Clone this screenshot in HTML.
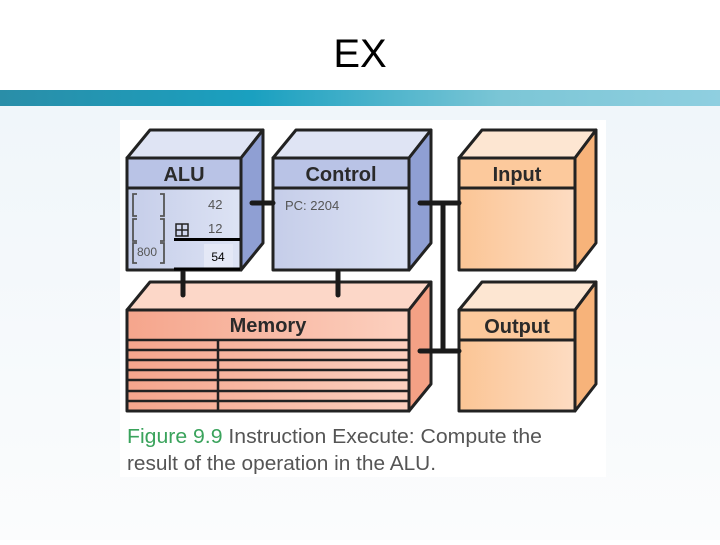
<!DOCTYPE html>
<html><head><style>
body{margin:0;width:720px;height:540px;overflow:hidden;background:#fff;font-family:"Liberation Sans",sans-serif}
</style></head><body>
<svg width="720" height="540" xmlns="http://www.w3.org/2000/svg" font-family="Liberation Sans, sans-serif">
<defs>
<linearGradient id="band" x1="0" x2="1"><stop offset="0" stop-color="#2a8ea8"/><stop offset="0.35" stop-color="#1aa0c0"/><stop offset="0.7" stop-color="#7cc6d6"/><stop offset="1" stop-color="#8fcfe0"/></linearGradient>
<linearGradient id="bg" x1="0" y1="0" x2="0" y2="1"><stop offset="0" stop-color="#f0f6fa"/><stop offset="1" stop-color="#fbfcfd"/></linearGradient>
<linearGradient id="blue" x1="0" x2="1"><stop offset="0" stop-color="#c5cde9"/><stop offset="1" stop-color="#dde3f4"/></linearGradient>
<linearGradient id="mem" x1="0" x2="1"><stop offset="0" stop-color="#f5a58c"/><stop offset="1" stop-color="#fcd0bf"/></linearGradient>
<linearGradient id="org" x1="0" x2="1"><stop offset="0" stop-color="#fbc595"/><stop offset="1" stop-color="#fddcc2"/></linearGradient>
</defs>
<rect x="0" y="106" width="720" height="434" fill="url(#bg)"/>
<rect x="0" y="90" width="720" height="16" fill="url(#band)"/>
<text x="360" y="67" font-size="40" text-anchor="middle" fill="#000">EX</text>
<rect x="120" y="120" width="486" height="357" fill="#fff"/>
<g stroke="#222" stroke-width="3" stroke-linejoin="round">
<polygon points="127,158 150,130 263,130 241,158" fill="#dfe4f4"/>
<polygon points="241,158 263,130 263,243 241,270" fill="#8f9fd3"/>
<rect x="127" y="158" width="114" height="112" fill="url(#blue)"/>
<rect x="127" y="158" width="114" height="30" fill="#b9c3e6"/>
<polygon points="273,158 296,130 431,130 409,158" fill="#dfe4f4"/>
<polygon points="409,158 431,130 431,243 409,270" fill="#8f9fd3"/>
<rect x="273" y="158" width="136" height="112" fill="url(#blue)"/>
<rect x="273" y="158" width="136" height="30" fill="#b9c3e6"/>
<polygon points="459,158 482,130 596,130 575,158" fill="#fde6d2"/>
<polygon points="575,158 596,130 596,243 575,270" fill="#f7b37a"/>
<rect x="459" y="158" width="116" height="112" fill="url(#org)"/>
<rect x="459" y="158" width="116" height="30" fill="#fcc99c"/>
<polygon points="127,310 150,282 431,282 409,310" fill="#fcd7c8"/>
<polygon points="409,310 431,282 431,384 409,411" fill="#f4a185"/>
<rect x="127" y="310" width="282" height="101" fill="url(#mem)"/>
<polygon points="459,310 482,282 596,282 575,310" fill="#fde6d2"/>
<polygon points="575,310 596,282 596,384 575,411" fill="#f7b37a"/>
<rect x="459" y="310" width="116" height="101" fill="url(#org)"/>
<rect x="459" y="310" width="116" height="30" fill="#fcc99c"/>
</g>
<g stroke="#222" stroke-width="2.5">
<line x1="127" y1="340" x2="409" y2="340"/>
<line x1="127" y1="350" x2="409" y2="350"/>
<line x1="127" y1="360" x2="409" y2="360"/>
<line x1="127" y1="370" x2="409" y2="370"/>
<line x1="127" y1="380" x2="409" y2="380"/>
<line x1="127" y1="391" x2="409" y2="391"/>
<line x1="127" y1="401" x2="409" y2="401"/>
<line x1="218" y1="340" x2="218" y2="411"/>
</g>
<g stroke="#1a1a1a" stroke-width="5" stroke-linecap="round">
<line x1="252" y1="203" x2="273" y2="203"/>
<line x1="420" y1="203" x2="459" y2="203"/>
<line x1="443" y1="203" x2="443" y2="351"/>
<line x1="420" y1="351" x2="459" y2="351"/>
<line x1="183" y1="272" x2="183" y2="295"/>
<line x1="338" y1="272" x2="338" y2="295"/>
</g>
<g font-weight="bold" font-size="20" fill="#2a2a2a" text-anchor="middle">
<text x="184" y="181">ALU</text>
<text x="341" y="181">Control</text>
<text x="517" y="181">Input</text>
<text x="268" y="332">Memory</text>
<text x="517" y="333">Output</text>
</g>
<g font-size="13" fill="#555">
<text x="285" y="210">PC: 2204</text>
<text x="208" y="209">42</text>
<text x="208" y="233">12</text>
<text x="137" y="256" font-size="12">800</text>
</g>
<g fill="none" stroke="#555" stroke-width="1.8">
<path d="M137,194 h-4 v22 h4 M160,194 h4 v22 h-4"/>
<path d="M137,219 h-4 v22 h4 M160,219 h4 v22 h-4"/>
<path d="M137,243 h-4 v20 h4 M160,243 h4 v20 h-4"/>
</g>
<rect x="176" y="224" width="12" height="12" fill="none" stroke="#222" stroke-width="1.5"/>
<line x1="182" y1="224" x2="182" y2="236" stroke="#222" stroke-width="1.5"/>
<line x1="176" y1="230" x2="188" y2="230" stroke="#222" stroke-width="1.5"/>
<rect x="204" y="244" width="29" height="24" fill="#e4e8f6"/>
<text x="218" y="261" font-size="12" fill="#000" text-anchor="middle">54</text>
<line x1="174" y1="239.5" x2="240" y2="239.5" stroke="#000" stroke-width="3"/>
<line x1="174" y1="269" x2="240" y2="269" stroke="#000" stroke-width="3"/>
<text x="127" y="443" font-size="20" fill="#555" textLength="415" lengthAdjust="spacingAndGlyphs"><tspan fill="#3aa35c">Figure 9.9</tspan>  Instruction Execute: Compute the</text>
<text x="127" y="470" font-size="20" fill="#555" textLength="309" lengthAdjust="spacingAndGlyphs">result of the operation in the ALU.</text>
</svg>
</body></html>
